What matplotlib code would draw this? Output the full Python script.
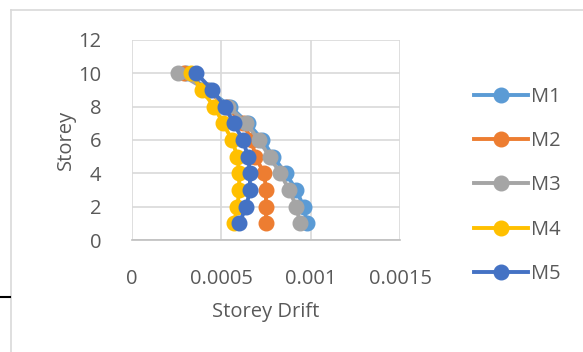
import matplotlib.pyplot as plt
from matplotlib.lines import Line2D

# data
storey = [1, 2, 3, 4, 5, 6, 7, 8, 9, 10]
m1 = [0.00098, 0.00096, 0.00092, 0.00086, 0.00079, 0.00073, 0.00065, 0.00055, 0.00043, 0.00030]
m2 = [0.00075, 0.00075, 0.00075, 0.00074, 0.00069, 0.00067, 0.00062, 0.00053, 0.00042, 0.00029]
m3 = [0.00094, 0.00092, 0.00088, 0.00083, 0.00077, 0.00071, 0.00064, 0.00054, 0.00042, 0.00026]
m4 = [0.00057, 0.00059, 0.00060, 0.00060, 0.00059, 0.00056, 0.00051, 0.00046, 0.00039, 0.00033]
m5 = [0.00060, 0.00064, 0.00066, 0.00066, 0.00065, 0.00062, 0.00057, 0.00052, 0.00045, 0.00036]

labels = ['M1', 'M2', 'M3', 'M4', 'M5']
series = [m1, m2, m3, m4, m5]
colors = ['#5B9BD5', '#ED7D31', '#A5A5A5', '#FFC000', '#4472C4']

plt.rcParams['font.family'] = ['Open Sans', 'DejaVu Sans']
text_col = '#595959'

fig = plt.figure(figsize=(5.83, 3.52), dpi=100)
ax = fig.add_axes([132 / 583, 1 - 240 / 352, 268 / 583, 200 / 352])

for vals, lab, col in zip(series, labels, colors):
    ax.plot(vals, storey, color=col, lw=2.8, marker='o', ms=10.5, label=lab)

ax.set_xlim(0, 0.0015)
ax.set_ylim(0, 12)
ax.set_xticks([0, 0.0005, 0.001, 0.0015])
ax.set_xticklabels(['0', '0.0005', '0.001', '0.0015'])
ax.set_yticks(range(0, 13, 2))
ax.grid(True, color='#D9D9D9', lw=1.2)
ax.set_axisbelow(True)
for s in ['top', 'right', 'left']:
    ax.spines[s].set_visible(False)
ax.spines['bottom'].set_color('#BFBFBF')
ax.spines['bottom'].set_linewidth(1.2)
ax.tick_params(length=0, labelsize=14.5, colors=text_col)
ax.tick_params(axis='x', pad=21)
ax.tick_params(axis='y', pad=22)
ax.set_xlabel('Storey Drift', fontsize=14.5, color=text_col, labelpad=9)
ax.set_ylabel('Storey', fontsize=14.5, color=text_col, labelpad=2)

fig.legend(loc='upper left', bbox_to_anchor=(466 / 583, 1 - 79 / 352), frameon=False,
           fontsize=14.5, labelcolor=text_col, handlelength=2.7, handletextpad=0.15,
           labelspacing=1.2, borderaxespad=0)

# outer chart frame (left and top edges visible) and document artefact
fig.add_artist(Line2D([11 / 583, 11 / 583], [0, 1 - 10 / 352], color='#D9D9D9', lw=1.2))
fig.add_artist(Line2D([11 / 583, 1], [1 - 10 / 352, 1 - 10 / 352], color='#D9D9D9', lw=1.2))
fig.add_artist(Line2D([0, 10 / 583], [1 - 297 / 352, 1 - 297 / 352], color='black', lw=1.5))

fig.savefig('out.png', dpi=100)
